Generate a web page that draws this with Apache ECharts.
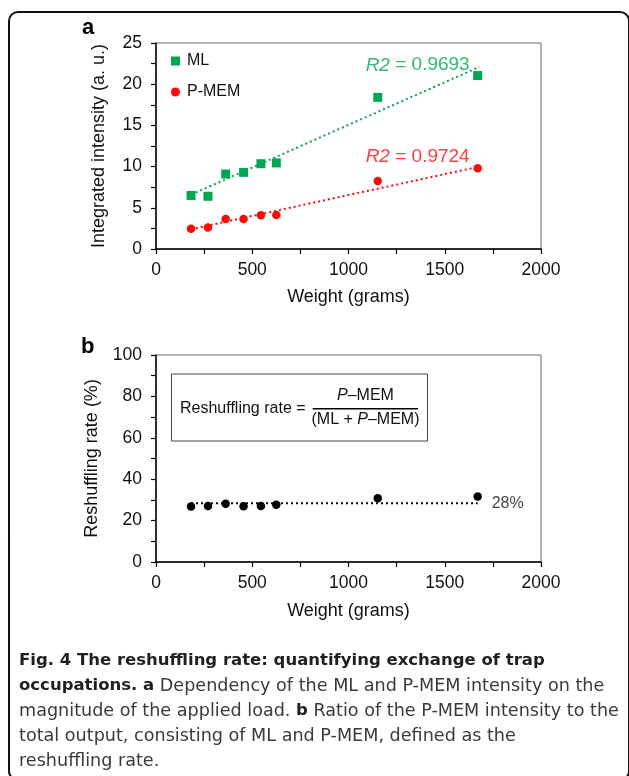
<!DOCTYPE html>
<html>
<head>
<meta charset="utf-8">
<style>
html,body{margin:0;padding:0;background:#fff;}
#chart{width:629px;height:776px;}
</style>
<script src="https://cdn.jsdelivr.net/npm/echarts@6/dist/echarts.min.js"></script>
</head>
<body>
<div id="chart"></div>
<script>
// ---- data ----
var weights = [182, 270, 362, 455, 545, 625, 1152, 1671];
var mlValues = [6.5, 6.4, 9.1, 9.3, 10.35, 10.45, 18.4, 21.05];
var pmemValues = [2.47, 2.6, 3.65, 3.65, 4.1, 4.13, 8.25, 9.8];
var rateValues = [26.8, 27.1, 28.1, 26.9, 27.1, 27.7, 30.8, 31.6];
var mlFit = [[182, 6.6], [1680, 22.1]];
var pmemFit = [[182, 2.4], [1680, 10.0]];
var rateFit = [[182, 28.4], [1671, 28.4]];
var mlR2 = ['R2', '0.9693'];
var pmemR2 = ['R2', '0.9724'];
var rateLabel = '28%';
var xTicks = [0, 500, 1000, 1500, 2000];
var yTicksA = [0, 5, 10, 15, 20, 25];
var yTicksB = [0, 20, 40, 60, 80, 100];
var captionLines = [
  [['b', 'Fig. 4 The reshuffling rate: quantifying exchange of trap']],
  [['b', 'occupations. a'], ['r', ' Dependency of the ML and P-MEM intensity on the']],
  [['r', 'magnitude of the applied load. '], ['b', 'b'], ['r', ' Ratio of the P-MEM intensity to the']],
  [['r', 'total output, consisting of ML and P-MEM, defined as the']],
  [['r', 'reshuffling rate.']]
];

function pairs(xs, ys) { return xs.map(function (x, i) { return [x, ys[i]]; }); }

var GREEN = '#00a651', RED = '#ff0a0a', FONT = 'Liberation Sans', CAPFONT = 'DejaVu Sans';
var chart = echarts.init(document.getElementById('chart'));

function xAxisCfg(gi) {
  return {
    gridIndex: gi, type: 'value', min: xTicks[0], max: xTicks[xTicks.length - 1], interval: 500,
    name: 'Weight (grams)', nameLocation: 'middle', nameGap: gi === 0 ? 39 : 40,
    nameTextStyle: { fontFamily: FONT, fontSize: 18, color: '#111' },
    axisLine: { show: true, onZero: false, lineStyle: { color: '#000', width: 1.5 } },
    axisTick: { show: true, length: 5, lineStyle: { color: '#000', width: 1.2 } },
    minorTick: { show: true, splitNumber: 2, length: 5, lineStyle: { color: '#000', width: 1.2 } },
    axisLabel: { margin: 12, fontFamily: FONT, fontSize: 17.5, color: '#111', formatter: function (v) { return String(v); } },
    splitLine: { show: false }
  };
}
function yAxisCfg(gi, ticks, name, gap) {
  return {
    gridIndex: gi, type: 'value', min: ticks[0], max: ticks[ticks.length - 1], interval: ticks[1] - ticks[0],
    name: name, nameLocation: 'middle', nameGap: gap,
    nameTextStyle: { fontFamily: FONT, fontSize: 18, color: '#111' },
    axisLine: { show: true, onZero: false, lineStyle: { color: '#000', width: 1.5 } },
    axisTick: { show: true, length: 5, lineStyle: { color: '#000', width: 1.2 } },
    minorTick: { show: true, splitNumber: 2, length: 5, lineStyle: { color: '#000', width: 1.2 } },
    axisLabel: { margin: 14, fontFamily: FONT, fontSize: 17.5, color: '#111', formatter: function (v) { return String(v); } },
    splitLine: { show: false }
  };
}

var captionGraphics = captionLines.map(function (line, i) {
  var txt = line.map(function (seg) { return '{' + seg[0] + '|' + seg[1] + '}'; }).join('');
  return {
    type: 'text', left: 19, top: 652 + i * 25, silent: true,
    style: {
      text: txt,
      rich: {
        b: { fontFamily: CAPFONT, fontWeight: 'bold', fontSize: 16.5, fill: '#231f20', color: '#231f20' },
        r: { fontFamily: CAPFONT, fontSize: 17.6, fill: '#3a3a3a', color: '#3a3a3a' }
      }
    }
  };
});

var option = {
  backgroundColor: '#fff',
  animation: false,
  grid: [
    { left: 156, top: 43, width: 385, height: 206, show: true, borderColor: '#666', borderWidth: 1, backgroundColor: 'transparent' },
    { left: 156, top: 355, width: 385, height: 207, show: true, borderColor: '#666', borderWidth: 1, backgroundColor: 'transparent' }
  ],
  xAxis: [xAxisCfg(0), xAxisCfg(1)],
  yAxis: [
    yAxisCfg(0, yTicksA, 'Integrated intensity (a. u.)', 48),
    yAxisCfg(1, yTicksB, 'Reshuffling rate (%)', 55)
  ],
  legend: [
    { data: ['ML'], orient: 'vertical', left: 171, top: 53, padding: 0, itemWidth: 9, itemHeight: 9,
      textStyle: { fontFamily: FONT, fontSize: 16, color: '#111', padding: [0, 0, 0, 2] } },
    { data: ['P-MEM'], orient: 'vertical', left: 171, top: 84, padding: 0, itemWidth: 9, itemHeight: 9,
      textStyle: { fontFamily: FONT, fontSize: 16, color: '#111', padding: [0, 0, 0, 2] } }
  ],
  series: [
    { name: 'ML fit', type: 'line', xAxisIndex: 0, yAxisIndex: 0, data: mlFit, symbol: 'none', silent: true,
      lineStyle: { color: GREEN, width: 2, type: [2, 3] }, z: 1 },
    { name: 'P-MEM fit', type: 'line', xAxisIndex: 0, yAxisIndex: 0, data: pmemFit, symbol: 'none', silent: true,
      lineStyle: { color: RED, width: 2, type: [2, 3] }, z: 1 },
    { name: 'ML', type: 'scatter', xAxisIndex: 0, yAxisIndex: 0, data: pairs(weights, mlValues),
      symbol: 'rect', symbolSize: 9, itemStyle: { color: GREEN, opacity: 1 }, z: 3 },
    { name: 'P-MEM', type: 'scatter', xAxisIndex: 0, yAxisIndex: 0, data: pairs(weights, pmemValues),
      symbol: 'circle', symbolSize: 8.5, itemStyle: { color: RED, opacity: 1 }, z: 3 },
    { name: 'R2 labels', type: 'scatter', xAxisIndex: 0, yAxisIndex: 0, symbolSize: 0, silent: true,
      data: [
        { value: [1089, 22.3], label: { color: GREEN, rich: { i: { fontStyle: 'italic', color: GREEN, fontSize: 19, fontFamily: FONT }, n: { color: GREEN, fontSize: 19, fontFamily: FONT } },
          formatter: '{i|' + mlR2[0] + '}{n| = ' + mlR2[1] + '}' } },
        { value: [1089, 11.2], label: { color: RED, rich: { i: { fontStyle: 'italic', color: RED, fontSize: 19, fontFamily: FONT }, n: { color: RED, fontSize: 19, fontFamily: FONT } },
          formatter: '{i|' + pmemR2[0] + '}{n| = ' + pmemR2[1] + '}' } }
      ],
      label: { show: true, position: [0, 0], align: 'left', verticalAlign: 'middle' } },
    { name: 'Rate fit', type: 'line', xAxisIndex: 1, yAxisIndex: 1, data: rateFit, symbol: 'none', silent: true,
      lineStyle: { color: '#000', width: 2, type: [2, 3] }, z: 1 },
    { name: 'Rate', type: 'scatter', xAxisIndex: 1, yAxisIndex: 1, data: pairs(weights, rateValues),
      symbol: 'circle', symbolSize: 8.5, itemStyle: { color: '#000', opacity: 1 }, z: 3 },
    { name: 'Rate label', type: 'scatter', xAxisIndex: 1, yAxisIndex: 1, symbolSize: 0, silent: true,
      data: [{ value: [1744, 28.4] }],
      label: { show: true, position: [0, 0], align: 'left', verticalAlign: 'middle', formatter: rateLabel,
        fontFamily: FONT, fontSize: 16, color: '#111' } }
  ],
  graphic: [
    { type: 'rect', shape: { x: 9, y: 12, width: 620, height: 768, r: 9 }, silent: true,
      style: { fill: 'none', stroke: '#111', lineWidth: 2 } },
    { type: 'text', left: 82, top: 17, silent: true,
      style: { text: 'a', fontFamily: FONT, fontWeight: 'bold', fontSize: 22, fill: '#000' } },
    { type: 'text', left: 81, top: 336, silent: true,
      style: { text: 'b', fontFamily: FONT, fontWeight: 'bold', fontSize: 22, fill: '#000' } },
    { type: 'rect', shape: { x: 171.5, y: 374, width: 256, height: 67 }, silent: true,
      style: { fill: 'none', stroke: '#444', lineWidth: 1 } },
    { type: 'text', x: 180, y: 409, silent: true,
      style: { text: 'Reshuffling rate =', fontFamily: FONT, fontSize: 16, fill: '#111', textVerticalAlign: 'middle', verticalAlign: 'middle' } },
    { type: 'text', x: 365.5, y: 396, silent: true,
      style: { text: '{i|P}{n|–MEM}', align: 'center', verticalAlign: 'middle', textAlign: 'center', textVerticalAlign: 'middle',
        rich: { i: { fontFamily: FONT, fontSize: 16, fontStyle: 'italic', fill: '#111', color: '#111' }, n: { fontFamily: FONT, fontSize: 16, fill: '#111', color: '#111' } } } },
    { type: 'line', shape: { x1: 312.7, y1: 408.7, x2: 418, y2: 408.7 }, silent: true,
      style: { stroke: '#000', lineWidth: 1.6 } },
    { type: 'text', x: 365.5, y: 420, silent: true,
      style: { text: '{n|(ML + }{i|P}{n|–MEM)}', align: 'center', verticalAlign: 'middle', textAlign: 'center', textVerticalAlign: 'middle',
        rich: { i: { fontFamily: FONT, fontSize: 16, fontStyle: 'italic', fill: '#111', color: '#111' }, n: { fontFamily: FONT, fontSize: 16, fill: '#111', color: '#111' } } } }
  ].concat(captionGraphics)
};
chart.setOption(option);
</script>
</body>
</html>
